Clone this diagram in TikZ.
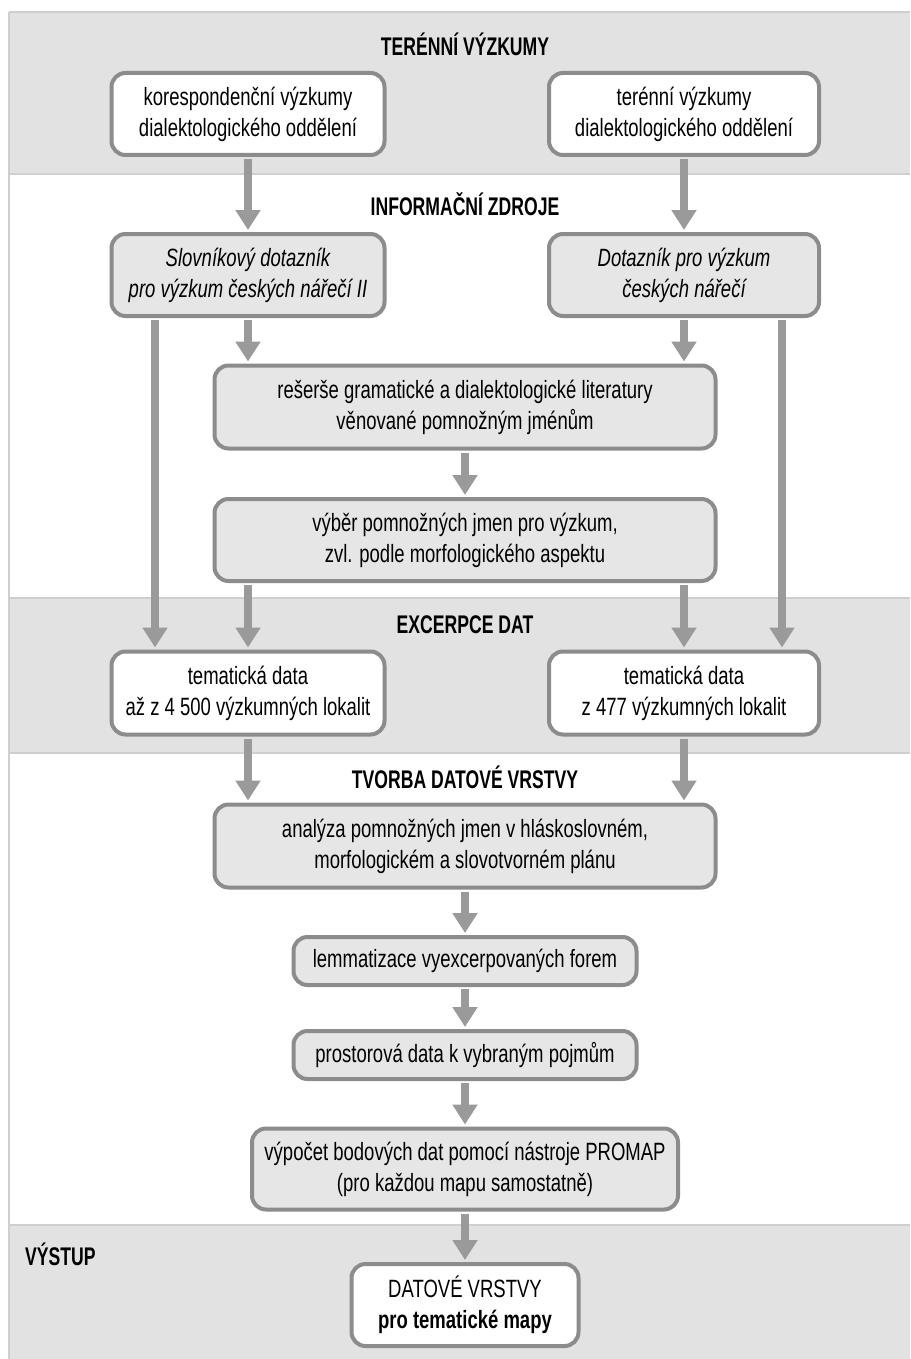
\documentclass[tikz,border=0pt]{standalone}
\usepackage{fontspec}
\setmainfont{Liberation Sans}[FakeStretch=0.74]
\newfontfamily\headfont{Liberation Sans}[FakeStretch=0.69]
\usetikzlibrary{arrows.meta}
\definecolor{band}{HTML}{E2E2E2}
\definecolor{boxfill}{HTML}{E6E6E6}
\definecolor{boxline}{HTML}{8C8C8C}
\definecolor{arrcol}{HTML}{9A9A9A}
\definecolor{sep}{HTML}{CFCFCF}
\begin{document}
\begin{tikzpicture}[x=1pt,y=-1pt,
 box/.style={draw=boxline, line width=4pt, rounded corners=14pt, align=center,
   font=\fontsize{25}{31}\selectfont, inner sep=0pt},
 wbox/.style={box, fill=white},
 gbox/.style={box, fill=boxfill},
 arr/.style={draw=arrcol, line width=8pt, -{Triangle[width=24pt,length=20pt]}, shorten >=2pt, shorten <=2pt},
 heading/.style={font=\headfont\fontsize{25.5}{28}\selectfont\bfseries, inner sep=0pt},
 sepline/.style={draw=sep, line width=1.5pt}]
\useasboundingbox (0,0) rectangle (910,1359);
\fill[white] (0,0) rectangle (910,1359);
% bands
\fill[band] (9,12) rectangle (910,174);
\fill[band] (9,598) rectangle (910,753);
\fill[band] (9,1225) rectangle (910,1359);
\draw[sepline] (9,12) -- (910,12);
\draw[sepline] (9,12) -- (9,1359);
\draw[sepline] (9,174) -- (910,174);
\draw[sepline] (9,598) -- (910,598);
\draw[sepline] (9,753) -- (910,753);
\draw[sepline] (9,1225) -- (910,1225);
% headings
\node[heading] (h1) at (465,44) {TERÉNNÍ VÝZKUMY};
\node[heading] (h2) at (465,204) {INFORMAČNÍ ZDROJE};
\node[heading] (h3) at (465,625) {EXCERPCE DAT};
\node[heading] (h4) at (465,777) {TVORBA DATOVÉ VRSTVY};
\node[heading, anchor=west] (h5) at (25,1254) {VÝSTUP};
% boxes
\node[wbox, minimum width=273pt, minimum height=82pt] (n1) at (248,114)
  {korespondenční výzkumy\\dialektologického oddělení};
\node[wbox, minimum width=270pt, minimum height=82pt] (n2) at (684,114)
  {terénní výzkumy\\dialektologického oddělení};
\node[gbox, minimum width=273pt, minimum height=82pt] (n3) at (248,275)
  {\itshape Slovníkový dotazník\\\itshape pro výzkum českých nářečí II};
\node[gbox, minimum width=270pt, minimum height=82pt] (n4) at (684,275)
  {\itshape Dotazník pro výzkum\\\itshape českých nářečí};
\node[gbox, minimum width=501pt, minimum height=83pt] (n5) at (465,407)
  {rešerše gramatické a dialektologické literatury\\věnované pomnožným jménům};
\node[gbox, minimum width=501pt, minimum height=82pt] (n6) at (465,540)
  {výběr pomnožných jmen pro výzkum,\\zvl. podle morfologického aspektu};
\node[wbox, minimum width=273pt, minimum height=83pt] (n7) at (248,693)
  {tematická data\\až z 4 500 výzkumných lokalit};
\node[wbox, minimum width=270pt, minimum height=83pt] (n8) at (684,693)
  {tematická data\\z 477 výzkumných lokalit};
\node[gbox, minimum width=501pt, minimum height=83pt] (n9) at (465,846)
  {analýza pomnožných jmen v hláskoslovném,\\morfologickém a slovotvorném plánu};
\node[gbox, minimum width=343pt, minimum height=48pt] (n10) at (465,961)
  {lemmatizace vyexcerpovaných forem};
\node[gbox, minimum width=343pt, minimum height=48pt] (n11) at (465,1055)
  {prostorová data k vybraným pojmům};
\node[gbox, minimum width=426pt, minimum height=81pt] (n12) at (465,1169)
  {výpočet bodových dat pomocí nástroje PROMAP\\(pro každou mapu samostatně)};
\node[wbox, minimum width=227pt, minimum height=82pt] (n13) at (465,1305)
  {DATOVÉ VRSTVY\\\bfseries pro tematické mapy};
% arrows
\draw[arr] (n1.south) -- (n3.north);
\draw[arr] (n2.south) -- (n4.north);
\draw[arr] (n3.south) -- (n5.north -| n3.south);
\draw[arr] (n4.south) -- (n5.north -| n4.south);
\draw[arr] ([xshift=-93pt]n3.south) -- ([xshift=-93pt]n7.north);
\draw[arr] ([xshift=98pt]n4.south) -- ([xshift=98pt]n8.north);
\draw[arr] (n5.south) -- (n6.north);
\draw[arr] (n6.south -| n7.north) -- (n7.north);
\draw[arr] (n6.south -| n8.north) -- (n8.north);
\draw[arr] (n7.south) -- (n9.north -| n7.south);
\draw[arr] (n8.south) -- (n9.north -| n8.south);
\draw[arr] (n9.south) -- (n10.north);
\draw[arr] (n10.south) -- (n11.north);
\draw[arr] (n11.south) -- (n12.north);
\draw[arr] (n12.south) -- (n13.north);
\end{tikzpicture}
\end{document}
